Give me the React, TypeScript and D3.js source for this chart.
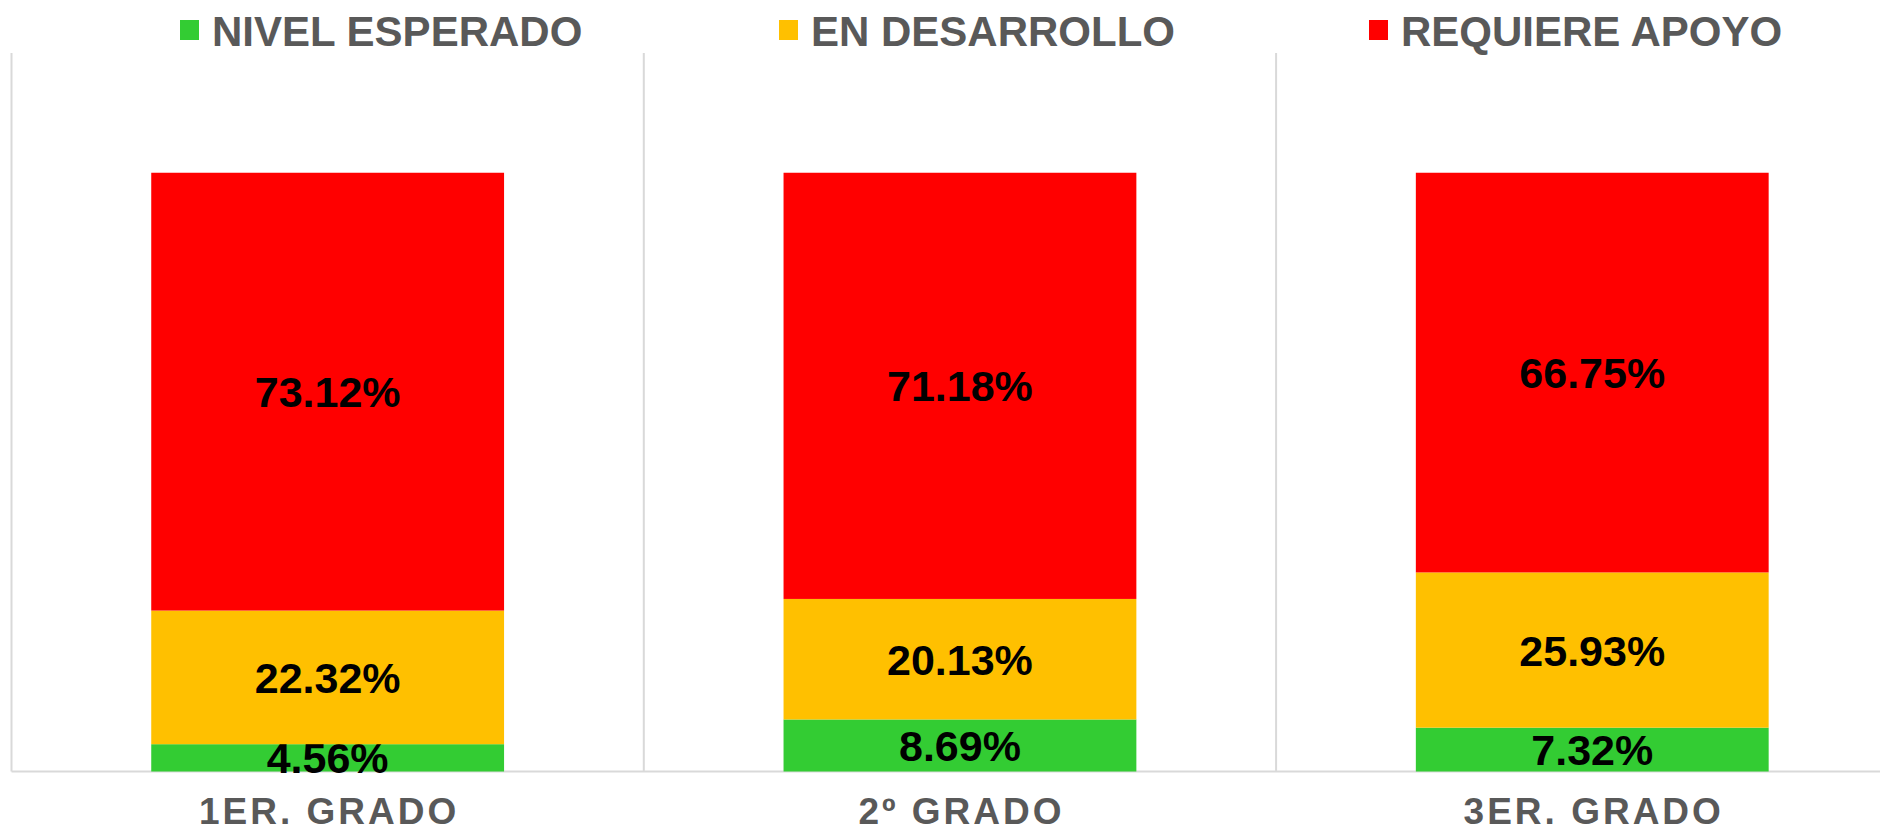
import React from 'react';
import * as d3 from 'd3';

// categories and series (fractions of 1)
const grados = ['1ER. GRADO', '2º GRADO', '3ER. GRADO'];
const series = ['NIVEL ESPERADO', 'EN DESARROLLO', 'REQUIERE APOYO'];
const nivelEsperado = [0.0456, 0.0869, 0.0732];
const enDesarrollo = [0.2232, 0.2013, 0.2593];
const requiereApoyo = [0.7312, 0.7118, 0.6675];
const colores = ['#33cc33', '#ffc000', '#ff0000'];

const W = 1880;
const H = 832;

export default function App() {
  const x = d3.scaleBand<string>().domain(grados).range([11.5, 11.5 + 3 * 632.3]);
  const y = d3.scaleLinear().domain([0, 1.2]).range([771.5, 53]);
  const barW = x.step() * 0.558;

  const rows = grados.map((g, i) => ({
    grado: g,
    [series[0]]: nivelEsperado[i],
    [series[1]]: enDesarrollo[i],
    [series[2]]: requiereApoyo[i],
  }));
  const stacked = d3.stack<any>().keys(series)(rows);
  const fmt = d3.format('.2%');

  // legend positions (square left edge)
  const legendX = [180, 779, 1369];

  return (
    <div style={{ position: 'fixed', left: 0, top: 0 }}>
      <svg width={W} height={H} style={{ display: 'block', background: '#fff' }}>
        {/* category separators */}
        {[0, 1, 2, 3].map(i => (
          <line key={i} x1={11.5 + i * x.step()} x2={11.5 + i * x.step()} y1={53} y2={771.5}
            stroke="#d9d9d9" strokeWidth={2} />
        ))}
        <line x1={11.5} x2={W} y1={771.5} y2={771.5} stroke="#d9d9d9" strokeWidth={2} />

        {stacked.map((layer, si) => (
          <g key={layer.key}>
            {layer.map((d, i) => {
              const cx = (x(grados[i]) as number) + x.step() / 2;
              const y0 = y(d[0]);
              const y1 = y(d[1]);
              return (
                <g key={i}>
                  <rect x={cx - barW / 2} y={y1} width={barW} height={y0 - y1} fill={colores[si]} />
                  <text x={cx} y={(y0 + y1) / 2} dy="0.36em" textAnchor="middle"
                    fontFamily="'Liberation Sans', Arial, sans-serif" fontWeight="bold" fontSize={43}
                    fill="#000">{fmt(d[1] - d[0])}</text>
                </g>
              );
            })}
          </g>
        ))}

        {grados.map(g => (
          <text key={g} x={(x(g) as number) + x.step() / 2 + 1.5} y={824} textAnchor="middle"
            fontFamily="'Liberation Sans', Arial, sans-serif" fontWeight="bold" fontSize={37}
            letterSpacing={3} fill="#595959">{g}</text>
        ))}

        {series.map((s, i) => (
          <g key={s} transform={`translate(${legendX[i]},0)`}>
            <rect x={0} y={20} width={19} height={20} fill={colores[i]} />
            <text x={32} y={45.5} fontFamily="'Liberation Sans', Arial, sans-serif" fontWeight="bold"
              fontSize={42} fill="#595959">{s}</text>
          </g>
        ))}
      </svg>
    </div>
  );
}
